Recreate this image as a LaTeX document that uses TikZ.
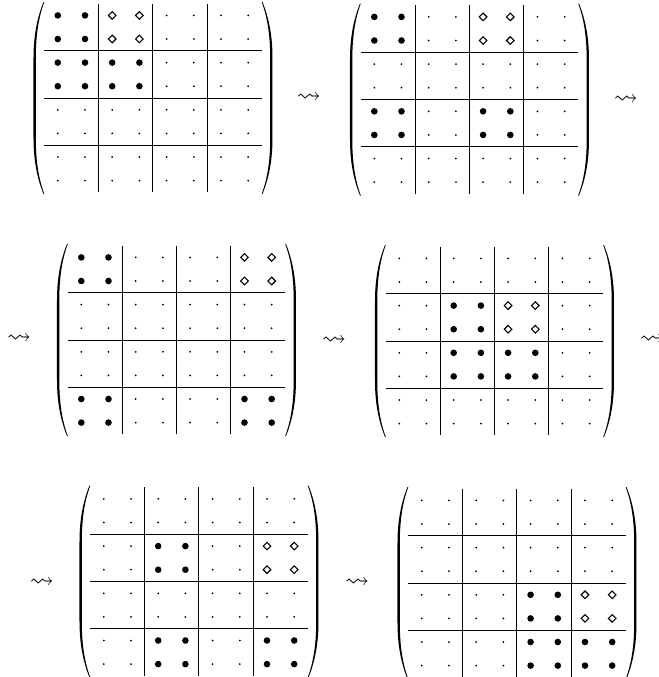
\documentclass[tikz,border=0pt]{standalone}
\usepackage{amssymb}
\usetikzlibrary{positioning}

% one 8x8 matrix cut into 2x2 blocks
% #1 name, #2 centre, #3 block kinds row by row (b bullet, d diamond, o dot)
\newcommand{\blockmat}[3]{%
  \coordinate (#1) at (#2);
  \begin{scope}[shift={(#1)}]
    \foreach \kind [count=\k from 0] in {#3} {
      \pgfmathtruncatemacro{\bi}{div(\k,4)}
      \pgfmathtruncatemacro{\bj}{mod(\k,4)}
      \foreach \ii in {0,1} {
        \foreach \jj in {0,1} {
          \coordinate (e) at ({(2*\bj+\jj-3.5)*27.2},{(2*\bi+\ii-3.5)*23.6});
          \if b\kind \fill (e) circle (1.65pt);
          \else\if d\kind \draw[diam] (e) ++(0,-3.8) -- ++(3.8,3.8) -- ++(-3.8,3.8) -- ++(-3.8,-3.8) -- cycle;
          \else \fill (e) circle (0.5pt);
          \fi\fi
        }
      }
    }
    \foreach \m in {-1,0,1} {
      \draw[grid] (-108.8,\m*47.2) -- (108.8,\m*47.2);
      \draw[grid] (\m*54.4,-94.4) -- (\m*54.4,94.4);
    }
    % parentheses
    \foreach \s in {1,-1} {
      \fill[xscale=\s] (-109.5,-96) .. controls (-116,-80) and (-119.5,-62) .. (-119.5,-40)
        -- (-119.5,40) .. controls (-119.5,62) and (-116,80) .. (-109.5,96)
        -- (-108.7,96) .. controls (-114.6,80) and (-117.2,62) .. (-117.2,40)
        -- (-117.2,-40) .. controls (-117.2,-62) and (-114.6,-80) .. (-108.7,-96) -- cycle;
    }
  \end{scope}}

\begin{document}
\begin{tikzpicture}[
x=0.5pt,y=-0.5pt,
grid/.style={line width=0.5pt},
diam/.style={line width=0.55pt,line join=miter},
step arrow/.style={font=\large}
]
\useasboundingbox (0,0) rectangle (659,677);

\blockmat{m1}{153,98}{b,d,o,o,b,b,o,o,o,o,o,o,o,o,o,o}
\blockmat{m2}{469.5,99.5}{b,o,d,o,o,o,o,o,b,o,b,o,o,o,o,o}
\blockmat{m3}{176.5,340}{b,o,o,d,o,o,o,o,o,o,o,o,b,o,o,b}
\blockmat{m4}{494.5,341}{o,o,o,o,o,b,d,o,o,b,b,o,o,o,o,o}
\blockmat{m5}{199,581.5}{o,o,o,o,o,b,o,d,o,o,o,o,o,b,o,b}
\blockmat{m6}{517,583}{o,o,o,o,o,o,o,o,o,o,b,d,o,o,b,b}

\node[step arrow] (s1) at (309,98) {$\leadsto$};
\node[step arrow] (s2) at (626,100) {$\leadsto$};
\node[step arrow] (s3) at (19,339) {$\leadsto$};
\node[step arrow] (s4) at (334,341) {$\leadsto$};
\node[step arrow] (s5) at (652,340) {$\leadsto$};
\node[step arrow] (s6) at (42,583) {$\leadsto$};
\node[step arrow] (s7) at (357,583) {$\leadsto$};
\end{tikzpicture}
\end{document}
